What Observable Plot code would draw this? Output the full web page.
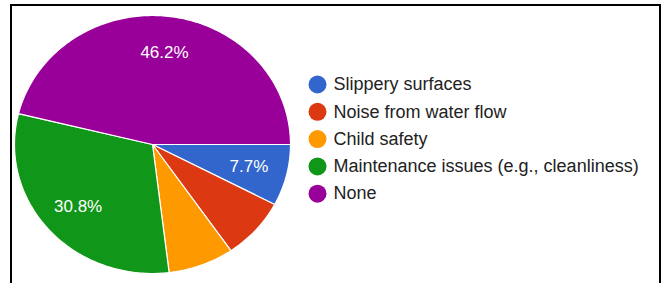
<!DOCTYPE html>
<html>
<head>
<meta charset="utf-8">
<script src="https://cdn.jsdelivr.net/npm/d3@7"></script>
<script src="https://cdn.jsdelivr.net/npm/@observablehq/plot@0.6"></script>
<style>
  html, body { margin: 0; padding: 0; background: #fff; }
  #wrap { position: relative; width: 667px; height: 283px; overflow: hidden; }
  #frame { position: absolute; left: 10px; top: 4px; width: 647px; height: 320px;
           border: 2px solid #000; border-bottom: none; pointer-events: none; }
  #chart { position: absolute; left: 0; top: 0; }
</style>
</head>
<body>
<div id="wrap"><div id="chart"></div><div id="frame"></div></div>
<script>
const categories = ["Slippery surfaces", "Noise from water flow", "Child safety", "Maintenance issues (e.g., cleanliness)", "None"];
const counts = [1, 1, 1, 4, 6];
const sliceLabels = ["7.7%", "", "", "30.8%", "46.2%"];
const colors = ["#3366cc", "#dc3912", "#ff9900", "#109618", "#990099"];

// layout (pixels)
const W = 667, H = 283;
const cx = 152, cy = 144, rx = 138, ry = 129;
const legendDotX = 317, legendTextX = 333, legendTop = 84, legendStep = 27.3;
const ux = px => (px - cx) / rx;   // pixel -> data unit
const uy = py => (cy - py) / ry;

// angles: clockwise from north, starting at east
const total = d3.sum(counts);
const start = Math.PI / 2;
let acc = start;
const slices = categories.map((c, i) => {
  const a0 = acc, a1 = acc + (counts[i] / total) * 2 * Math.PI;
  acc = a1;
  return {category: c, a0, a1, color: colors[i], label: sliceLabels[i]};
});

// polygon outline for each slice (geometry from the angles)
const poly = [];
for (const s of slices) {
  poly.push({category: s.category, x: 0, y: 0});
  const n = Math.max(8, Math.ceil((s.a1 - s.a0) / (Math.PI / 180)));
  for (let k = 0; k <= n; k++) {
    const a = s.a0 + (s.a1 - s.a0) * k / n;
    poly.push({category: s.category, x: Math.sin(a), y: Math.cos(a)});
  }
  poly.push({category: s.category, x: 0, y: 0});
}

const labelR = 0.72;
const labels = slices.filter(s => s.label).map(s => {
  const m = (s.a0 + s.a1) / 2;
  return {text: s.label, x: labelR * Math.sin(m), y: labelR * Math.cos(m)};
});

const legend = categories.map((c, i) => ({category: c, i}));

const chart = Plot.plot({
  width: W, height: H,
  margin: 0,
  style: {fontFamily: "'Liberation Sans', Arial, sans-serif", background: "transparent"},
  x: {domain: [-1, 1], range: [cx - rx, cx + rx], axis: null},
  y: {domain: [-1, 1], range: [cy + ry, cy - ry], axis: null},
  color: {domain: categories, range: colors},
  marks: [
    Plot.line(poly, {x: "x", y: "y", z: "category", fill: "category", stroke: "#fff", strokeWidth: 1.2, curve: "linear", strokeLinejoin: "round"}),
    Plot.text(labels, {x: "x", y: "y", text: "text", fill: "#fff", fontSize: 17}),
    Plot.dot(legend, {x: () => ux(legendDotX), y: d => uy(legendTop + d.i * legendStep), r: 9, fill: "category"}),
    Plot.text(legend, {x: () => ux(legendTextX), y: d => uy(legendTop + d.i * legendStep), text: "category", textAnchor: "start", fill: "#222", fontSize: 18})
  ]
});
document.getElementById("chart").appendChild(chart);
</script>
</body>
</html>
